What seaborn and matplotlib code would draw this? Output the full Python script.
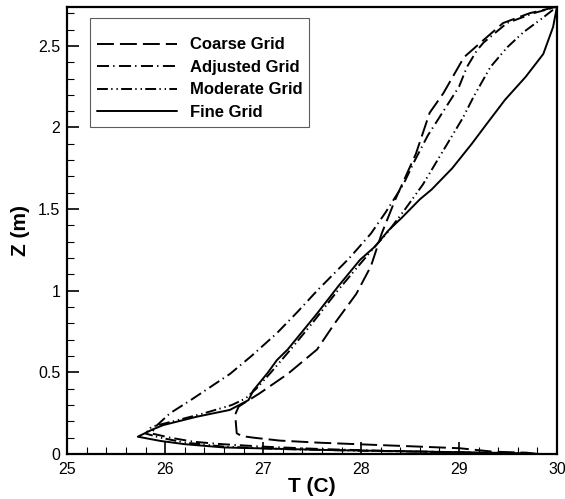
import numpy as np
import pandas as pd
import matplotlib
matplotlib.use("Agg")
import matplotlib.pyplot as plt
from matplotlib.ticker import MultipleLocator, FuncFormatter
import seaborn as sns

# Vertical temperature profiles, listed along each curve from the floor upward
coarse_z = [0.0, 0.008, 0.014, 0.035, 0.045, 0.069, 0.082, 0.10, 0.11, 0.127, 0.20, 0.25, 0.29,
            0.31, 0.37, 0.49, 0.64, 0.80, 0.98, 1.15, 1.35, 1.56, 1.76, 1.84, 2.09, 2.21,
            2.43, 2.52, 2.64, 2.70, 2.74]
coarse_t = [29.80, 29.69, 29.35, 29.01, 28.60, 27.58, 27.17, 26.90, 26.78, 26.73, 26.72, 26.72,
            26.75, 26.80, 26.96, 27.25, 27.55, 27.73, 27.95, 28.10, 28.21, 28.35, 28.50, 28.56,
            28.70, 28.84, 29.05, 29.22, 29.45, 29.72, 30.0]

adjusted_z = [0.0, 0.01, 0.02, 0.03, 0.045, 0.061, 0.075, 0.10, 0.126, 0.167, 0.25, 0.33, 0.49,
              0.60, 0.74, 0.87, 1.0, 1.2, 1.35, 1.48, 1.65, 1.8, 1.95, 2.1, 2.25, 2.37, 2.47,
              2.52, 2.64, 2.70, 2.74]
adjusted_t = [29.80, 29.0, 28.2, 27.6, 27.0, 26.56, 26.29, 26.05, 25.86, 25.90, 26.05, 26.26,
              26.66, 26.88, 27.14, 27.35, 27.55, 27.88, 28.10, 28.25, 28.43, 28.55, 28.68,
              28.84, 29.0, 29.08, 29.18, 29.25, 29.49, 29.76, 30.0]

moderate_z = [0.0, 0.01, 0.02, 0.03, 0.045, 0.07, 0.10, 0.125, 0.167, 0.20, 0.25, 0.30, 0.34,
              0.40, 0.50, 0.64, 0.80, 1.0, 1.15, 1.27, 1.35, 1.5, 1.65, 1.86, 2.06, 2.19, 2.37,
              2.49, 2.585, 2.66, 2.74]
moderate_t = [29.80, 29.0, 28.0, 27.2, 26.6, 26.2, 25.95, 25.80, 25.86, 26.08, 26.40, 26.68,
              26.82, 26.93, 27.08, 27.28, 27.50, 27.76, 27.97, 28.14, 28.26, 28.45, 28.63,
              28.84, 29.04, 29.15, 29.32, 29.49, 29.66, 29.83, 30.0]

fine_z = [0.0, 0.005, 0.015, 0.025, 0.04, 0.06, 0.08, 0.106, 0.15, 0.177, 0.228, 0.27, 0.33,
          0.39, 0.50, 0.575, 0.64, 0.86, 1.03, 1.19, 1.27, 1.37, 1.45, 1.56, 1.62, 1.75, 1.90,
          2.02, 2.17, 2.31, 2.45, 2.615, 2.74]
fine_t = [29.80, 29.60, 28.60, 27.60, 26.60, 26.20, 25.95, 25.72, 25.87, 25.98, 26.32, 26.66,
          26.85, 26.90, 27.05, 27.14, 27.25, 27.55, 27.77, 27.99, 28.14, 28.28, 28.42, 28.60,
          28.72, 28.93, 29.13, 29.28, 29.47, 29.68, 29.86, 29.96, 30.0]

grid_names = ["Coarse Grid", "Adjusted Grid", "Moderate Grid", "Fine Grid"]
x_ticks = [25, 26, 27, 28, 29, 30]
y_ticks = [0, 0.5, 1, 1.5, 2, 2.5]

profiles = {
    "Coarse Grid": (coarse_t, coarse_z),
    "Adjusted Grid": (adjusted_t, adjusted_z),
    "Moderate Grid": (moderate_t, moderate_z),
    "Fine Grid": (fine_t, fine_z),
}

# dash patterns in units of line width
line_styles = {
    "Coarse Grid": (0, (8.7, 3.1)),
    "Adjusted Grid": (0, (6.2, 2.1, 0.7, 2.3)),
    "Moderate Grid": (0, (5.6, 1.7, 0.7, 2.0, 0.7, 1.7)),
    "Fine Grid": "-",
}

sns.set_style("white")
plt.rcParams["font.family"] = ["Liberation Sans", "DejaVu Sans"]
plt.rcParams["text.color"] = "black"
plt.rcParams["axes.labelcolor"] = "black"
plt.rcParams["xtick.color"] = "black"
plt.rcParams["ytick.color"] = "black"

fig = plt.figure(figsize=(5.65, 4.99), dpi=100)
ax = fig.add_axes([0.1191, 0.0902, 0.8667, 0.8964])

for name in grid_names:
    t, z = profiles[name]
    df = pd.DataFrame({"T": t, "Z": z})
    sns.lineplot(data=df, x="T", y="Z", sort=False, estimator=None, color="black",
                 linewidth=1.4, linestyle=line_styles[name], label=name, ax=ax, legend=False)

ax.set_xlim(25, 30)
ax.set_ylim(0, 2.74)
ax.set_xticks(x_ticks)
ax.set_yticks(y_ticks)
ax.xaxis.set_minor_locator(MultipleLocator(0.2))
ax.yaxis.set_minor_locator(MultipleLocator(0.1))
ax.yaxis.set_major_formatter(FuncFormatter(lambda v, p: f"{v:g}"))
ax.tick_params(axis="both", which="major", direction="in", length=8.6, width=1.2,
               labelsize=11.5, colors="black", top=False, right=False)
ax.tick_params(axis="x", which="major", pad=6)
ax.tick_params(axis="y", which="major", pad=5)
ax.tick_params(axis="both", which="minor", direction="in", length=4.7, width=0.8,
               colors="black", top=False, right=False)
ax.tick_params(axis="both", which="both", bottom=True, left=True)

for side in ["left", "right", "top", "bottom"]:
    ax.spines[side].set_visible(True)
    ax.spines[side].set_color("black")
    ax.spines[side].set_linewidth(1.6)

ax.set_xlabel("T (C)", fontsize=15, fontweight="bold", labelpad=0)
ax.set_ylabel("Z (m)", fontsize=15, fontweight="bold", labelpad=6)

handles = ax.get_lines()[:4]
leg = ax.legend(handles, grid_names, loc="upper left", bbox_to_anchor=(0.0464, 0.974),
                borderaxespad=0, frameon=True, fancybox=False, shadow=False,
                handlelength=4.8, handletextpad=0.8, borderpad=0.4, labelspacing=0.45,
                prop={"weight": "bold", "size": 12}, title=" ", title_fontsize=4)
leg.get_frame().set_edgecolor("#333333")
leg.get_frame().set_linewidth(0.8)

fig.savefig("out.png", dpi=100)
